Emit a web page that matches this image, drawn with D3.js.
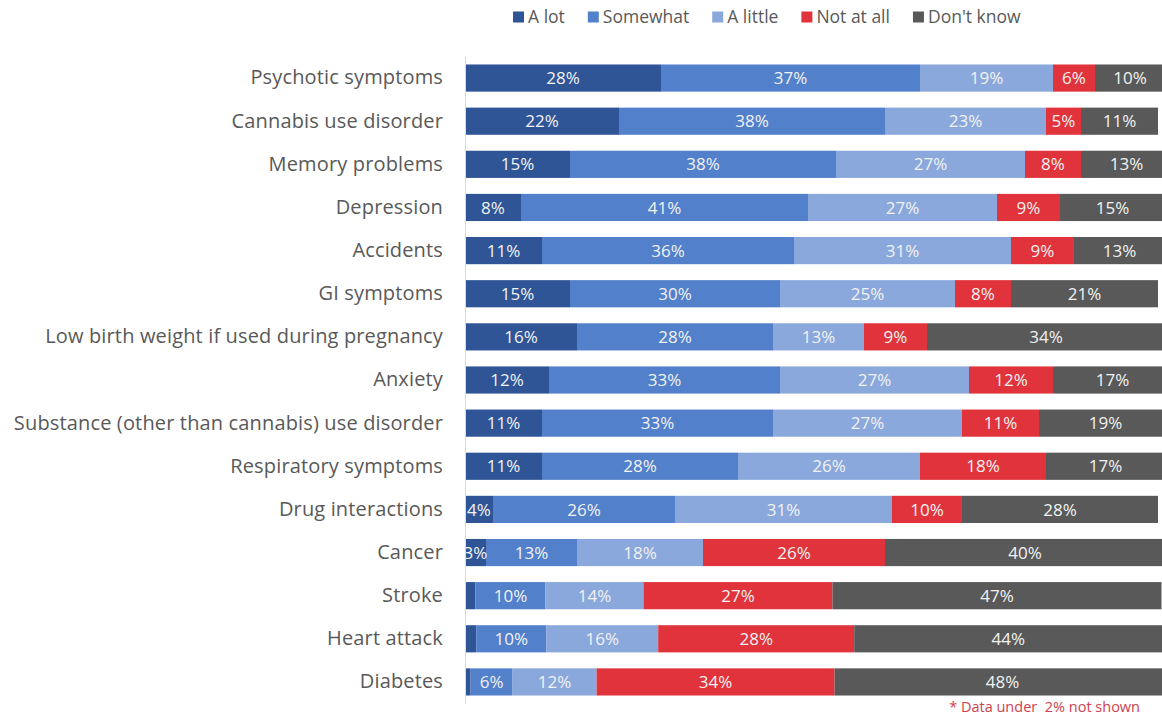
<!DOCTYPE html>
<html>
<head>
<meta charset="utf-8">
<script src="https://cdn.jsdelivr.net/npm/d3@7/dist/d3.min.js"></script>
<style>
  html, body { margin: 0; padding: 0; background: #ffffff; }
  svg { display: block; }
  text { font-family: "Open Sans", "Noto Sans", sans-serif; }
</style>
</head>
<body>
<svg id="chart" width="1162" height="717"></svg>
<script>
// Perceived risk by condition, share of respondents per answer
const categories = [
  "Psychotic symptoms",
  "Cannabis use disorder",
  "Memory problems",
  "Depression",
  "Accidents",
  "GI symptoms",
  "Low birth weight if used during pregnancy",
  "Anxiety",
  "Substance (other than cannabis) use disorder",
  "Respiratory symptoms",
  "Drug interactions",
  "Cancer",
  "Stroke",
  "Heart attack",
  "Diabetes"
];
const seriesNames = ["A lot", "Somewhat", "A little", "Not at all", "Don't know"];
const aLot      = [28, 22, 15,  8, 11, 15, 16, 12, 11, 11,  4,  3, 1.5, 1.6, 0.8];
const somewhat  = [37, 38, 38, 41, 36, 30, 28, 33, 33, 28, 26, 13, 10, 10,  6];
const aLittle   = [19, 23, 27, 27, 31, 25, 13, 27, 27, 26, 31, 18, 14, 16, 12];
const notAtAll  = [ 6,  5,  8,  9,  9,  8,  9, 12, 11, 18, 10, 26, 27, 28, 34];
const dontKnow  = [10, 11, 13, 15, 13, 21, 34, 17, 19, 17, 28, 40, 47, 44, 48];
const colors    = ["#2f5597", "#5280cb", "#8aa8dc", "#e0333b", "#595959"];
const footnote  = "* Data under  2% not shown";

const seriesValues = [aLot, somewhat, aLittle, notAtAll, dontKnow];
const rows = categories.map((c, i) => {
  const r = { category: c };
  seriesNames.forEach((s, k) => { r[s] = seriesValues[k][i]; });
  return r;
});

const svg = d3.select("#chart");

const x = d3.scaleLinear().domain([0, 100]).range([465, 1165]);
const y = d3.scaleBand().domain(categories).range([56.5, 703.5])
  .paddingInner(0.37).paddingOuter(0.185);
const color = d3.scaleOrdinal().domain(seriesNames).range(colors);

const stacked = d3.stack().keys(seriesNames)(rows);

// Bars
const layers = svg.append("g").selectAll("g")
  .data(stacked).join("g")
  .attr("fill", d => color(d.key));

layers.selectAll("rect")
  .data(d => d.map(p => ({ key: d.key, p })))
  .join("rect")
  .attr("x", d => x(d.p[0]))
  .attr("y", d => y(d.p.data.category))
  .attr("width", d => x(d.p[1]) - x(d.p[0]))
  .attr("height", y.bandwidth());

// Value labels (values under 2% are left unlabeled)
const labels = svg.append("g");
stacked.forEach(layer => {
  layer.forEach(p => {
    const v = p[1] - p[0];
    if (v < 2) return;
    labels.append("text")
      .attr("x", (x(p[0]) + x(p[1])) / 2)
      .attr("y", y(p.data.category) + y.bandwidth() / 2)
      .attr("dy", "0.36em")
      .attr("text-anchor", "middle")
      .attr("fill", "#f2f2f2")
      .attr("font-size", 17)
      .text(Math.round(v) + "%");
  });
});

// Category axis
const yAxis = svg.append("g")
  .attr("transform", `translate(${x(0)},0)`)
  .call(d3.axisLeft(y).tickSize(0).tickPadding(22));
yAxis.select(".domain").attr("stroke", "#d9d9d9").attr("stroke-width", 1);
yAxis.selectAll(".tick text")
  .attr("font-size", 20)
  .attr("fill", "#595959")
  .attr("letter-spacing", 0.15)
  .style("font-family", "'Open Sans', 'Noto Sans', sans-serif");

// Legend
const legend = svg.append("g");
const items = legend.selectAll("g").data(seriesNames).join("g");
items.append("rect").attr("width", 11).attr("height", 11).attr("y", -5.5)
  .attr("fill", d => color(d));
items.append("text").attr("x", 15).attr("dy", "0.36em")
  .attr("font-size", 17.5).attr("fill", "#595959").text(d => d);
let cursor = 0;
const gap = 23;
items.each(function () {
  const w = this.getBBox().width;
  d3.select(this).attr("transform", `translate(${cursor},17)`);
  cursor += w + gap;
});
const legendWidth = cursor - gap;
legend.attr("transform", `translate(${767 - legendWidth / 2},0)`);

// Footnote
svg.append("text")
  .attr("x", 1140).attr("y", 707)
  .attr("dy", "0.36em")
  .attr("text-anchor", "end")
  .attr("font-size", 14.5)
  .attr("fill", "#d04050")
  .style("white-space", "pre")
  .text(footnote);
</script>
</body>
</html>
